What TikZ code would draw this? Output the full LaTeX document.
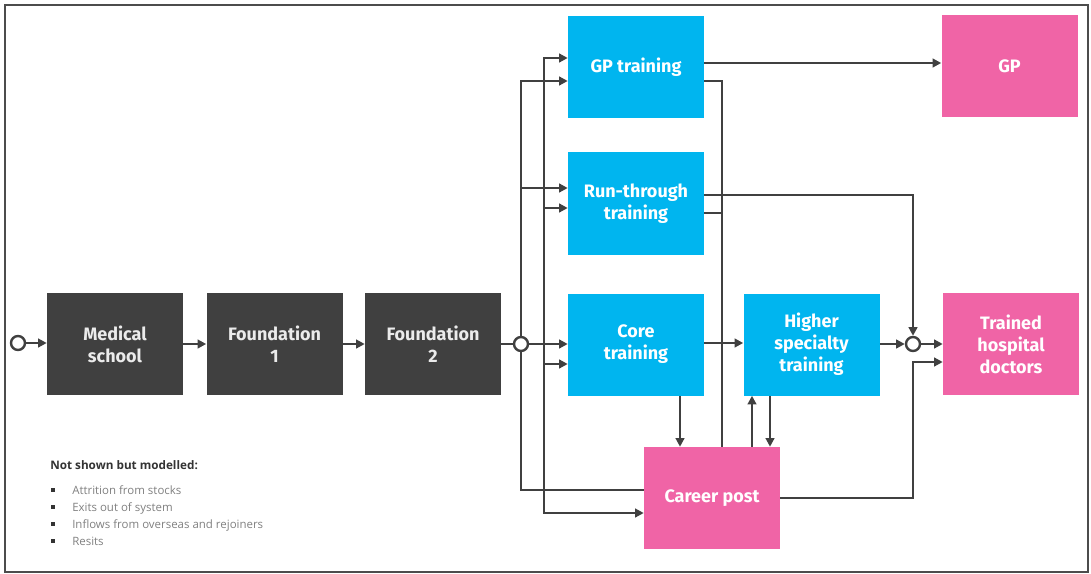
\documentclass[tikz,border=0pt]{standalone}
\usepackage{fontspec}
\setmainfont{Fira Sans}
\newfontfamily\legendfont{Open Sans}
\usetikzlibrary{arrows.meta}
\definecolor{darkbox}{HTML}{404040}
\definecolor{bluebox}{HTML}{00B5EF}
\definecolor{pinkbox}{HTML}{F064A6}
\definecolor{linec}{HTML}{404040}
\tikzset{
  box/.style={rectangle, minimum width=102pt, minimum height=76.5pt, inner sep=0pt,
    align=center, font=\fontsize{13.5}{16.5}\selectfont\bfseries},
  darkb/.style={box, fill=darkbox, text=white!92!black},
  blueb/.style={box, fill=bluebox, text=white},
  pinkb/.style={box, fill=pinkbox, text=white},
  junc/.style={circle, draw=linec, line width=1.8pt, fill=white, minimum size=10.5pt, inner sep=0pt},
  conn/.style={draw=linec, line width=2.1pt},
  arr/.style={conn, -{Triangle[length=6.5pt,width=6.5pt]}},
  bulletmark/.style={rectangle, fill=black!80, minimum size=3.2pt, inner sep=0pt},
  itemtext/.style={anchor=west, inner sep=0pt, text=black!50, font=\legendfont\fontsize{8.6}{10}\selectfont},
}
\begin{document}
\begin{tikzpicture}[x=0.75pt,y=-0.75pt]
\useasboundingbox (0,0) rectangle (1091,574);
\draw[draw=black!70, line width=1.5pt] (5,5) rectangle (1088,572);

% nodes
\node[junc] (c0) at (18,343) {};
\node[darkb] (med) at (115,344) {Medical\\school};
\node[darkb] (f1) at (274.5,344) {Foundation\\1};
\node[darkb] (f2) at (433,344) {Foundation\\2};
\node[junc] (c1) at (521,344) {};
\node[blueb] (gpt) at (636,67.5) {GP training};
\node[blueb] (rtt) at (636,203.5) {Run-through\\training};
\node[blueb] (core) at (636,344.5) {Core\\training};
\node[blueb] (hst) at (811.5,344.5) {Higher\\specialty\\training};
\node[pinkb] (cp) at (712,498) {Career post};
\node[pinkb] (gp) at (1009.5,66) {GP};
\node[junc] (c2) at (913,344) {};
\node[pinkb] (thd) at (1011,344) {Trained\\hospital\\doctors};
\coordinate (bj) at (544,344);

% main chain
\draw[arr] (c0) -- (med.west |- c0);
\draw[arr] (med) -- (f1);
\draw[arr] (f1) -- (f2);
\draw[conn] (f2) -- (c1);
\draw[arr] (c1) -- (core.west |- c1);

% distribution line from junction
\draw[arr] (c1.north) |- (gpt.west |- 0,81);
\draw[arr] (c1.north) |- (rtt.west |- 0,188);
\draw[conn] (c1.south) |- (cp.west |- 0,490);

% second distribution line
\draw[arr] (bj) |- (gpt.west |- 0,58);
\draw[arr] (bj) |- (rtt.west |- 0,208);
\draw[arr] (bj) |- (core.west |- 0,364);
\draw[arr] (bj) |- (cp.west |- 0,513);

% GP training outputs
\draw[arr] (gpt.east |- 0,63) -- (gp.west |- 0,63);
\draw[conn] (gpt.east |- 0,81) -| (722,0 |- cp.north);
\draw[conn] (rtt.east |- 0,213) -- (722,213);

% run-through to trained junction
\draw[arr] (rtt.east |- 0,195) -| (c2.north);

% core / higher / career
\draw[arr] (core.east |- 0,343) -- (hst.west |- 0,343);
\draw[arr] (680,0 |- core.south) -- (680,0 |- cp.north);
\draw[arr] (752,0 |- cp.north) -- (752,0 |- hst.south);
\draw[arr] (770,0 |- hst.south) -- (770,0 |- cp.north);
\draw[arr] (hst.east |- c2) -- (c2.west);
\draw[arr] (c2.east) -- (thd.west |- c2);
\draw[arr] (cp.east) -- (913,0 |- cp.east) -- (913,362) -- (thd.west |- 0,362);

% legend
\node[anchor=west, inner sep=0pt, text=black!80, font=\legendfont\fontsize{8.8}{10}\selectfont\bfseries] (lt) at (50,465) {Not shown but modelled:};
\node[bulletmark] (b1) at (53,490) {};
\node[bulletmark] (b2) at (53,507) {};
\node[bulletmark] (b3) at (53,524) {};
\node[bulletmark] (b4) at (53,541) {};
\node[itemtext, anchor=base west] (i1) at (72,494) {Attrition from stocks};
\node[itemtext, anchor=base west] (i2) at (72,511) {Exits out of system};
\node[itemtext, anchor=base west] (i3) at (72,528) {Inflows from overseas and rejoiners};
\node[itemtext, anchor=base west] (i4) at (72,545) {Resits};
\end{tikzpicture}
\end{document}
